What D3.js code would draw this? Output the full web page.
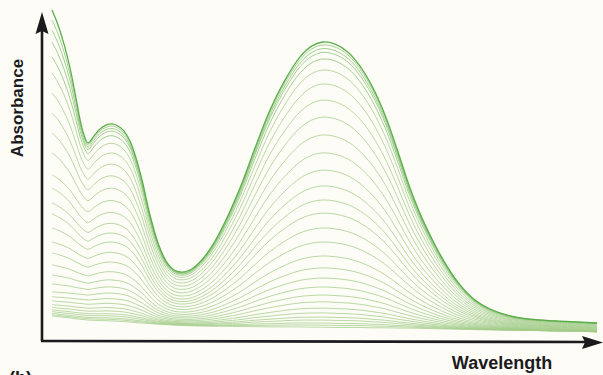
<!DOCTYPE html>
<html>
<head>
<meta charset="utf-8">
<script src="https://cdn.jsdelivr.net/npm/d3@7/dist/d3.min.js"></script>
<style>
  html, body { margin: 0; padding: 0; background: #fdfcf6; }
  svg { display: block; }
</style>
</head>
<body>
<svg id="chart" width="603" height="375"></svg>
<script>
// Wavelength grid (arbitrary nm)
const wavelengths = [250,256,262,268,274,280,286,292,298,304,
  310,316,322,328,334,340,348,356,364,372,
  380,388,398,410,423,438,453,468,483,498,
  510,521,533,546,558,570,583,596,608,620,
  633,646,658,673,688,708,728,753,778,795];

// Final (top) spectrum, absorbance
const finalSpectrum = [1.107,1.057,0.993,0.913,0.812,0.711,0.661,0.685,0.708,0.721,
  0.725,0.718,0.701,0.668,0.611,0.537,0.419,0.326,0.265,0.235,
  0.228,0.235,0.262,0.315,0.396,0.510,0.644,0.772,0.872,0.950,
  0.987,1.000,0.993,0.966,0.919,0.852,0.755,0.631,0.510,0.409,
  0.319,0.242,0.185,0.134,0.104,0.081,0.070,0.064,0.060,0.057];

// Initial (bottom) spectrum, absorbance
const initialSpectrum = [0.081,0.078,0.076,0.074,0.071,0.069,0.067,0.066,0.065,0.065,
  0.064,0.063,0.062,0.060,0.058,0.057,0.055,0.053,0.052,0.050,
  0.049,0.048,0.047,0.046,0.046,0.045,0.045,0.044,0.044,0.044,
  0.043,0.043,0.042,0.042,0.042,0.041,0.041,0.040,0.040,0.039,
  0.038,0.037,0.036,0.035,0.034,0.033,0.032,0.030,0.029,0.027];

// Short-wavelength part of the final spectrum that grows at its own pace
const uvComponent = [0.456,0.399,0.332,0.248,0.148,0.044,0,0,0,0,
  0,0,0,0,0,0,0,0,0,0,
  0,0,0,0,0,0,0,0,0,0,
  0,0,0,0,0,0,0,0,0,0,
  0,0,0,0,0,0,0,0,0,0];

const peakLevels = [1.000,0.990,0.978,0.965,0.943,0.906,0.859,0.805,0.748,0.688,
  0.628,0.570,0.517,0.470,0.426,0.376,0.329,0.282,0.242,0.208,
  0.178,0.151,0.128,0.107,0.091,0.077,0.067,0.057,0.050,0.043];

// Absorbance of each curve at the shortest wavelength, top to bottom
const edgeLevels = [1.107,1.074,1.040,1.000,0.950,0.896,0.829,0.762,0.695,0.628,
  0.554,0.510,0.460,0.423,0.376,0.329,0.292,0.252,0.218,0.188,
  0.161,0.141,0.124,0.111,0.101,0.094,0.089,0.086,0.084,0.081];

const xLabel = "Wavelength";
const yLabel = "Absorbance";
const panelLabel = "(b)";

// ---- build curves ----
const band = finalSpectrum.map((v, i) => v - initialSpectrum[i] - uvComponent[i]);
const peakIdx = wavelengths.indexOf(521);
const curves = peakLevels.map((pk, k) => {
  const p = (pk - initialSpectrum[peakIdx]) / band[peakIdx];
  let u = (edgeLevels[k] - initialSpectrum[0] - p * band[0]) / uvComponent[0];
  if (u < 0) u = 0;
  return wavelengths.map((w, i) => ({
    w, a: initialSpectrum[i] + p * band[i] + u * uvComponent[i]
  }));
});

const svg = d3.select("#chart");
const x = d3.scaleLinear().domain([250, 795]).range([52, 597]);
const y = d3.scaleLinear().domain([0, 1]).range([340, 42]);

const line = d3.line()
  .x(d => x(d.w))
  .y(d => y(d.a))
  .curve(d3.curveCatmullRom.alpha(0.5));

const g = svg.append("g");
// draw bottom first
curves.slice().reverse().forEach((c, ri) => {
  const k = curves.length - 1 - ri;
  g.append("path")
    .datum(c)
    .attr("fill", "none")
    .attr("stroke", k === 0 ? "#5aae4a" : (k < 5 ? "#86c072" : "#a3cc8a"))
    .attr("stroke-width", k === 0 ? 1.3 : 0.75)
    .attr("d", line);
});

// ---- axes ----
const axisColor = "#1c1a1d";
svg.append("line")
  .attr("x1", 42).attr("y1", 341).attr("x2", 42).attr("y2", 28)
  .attr("stroke", axisColor).attr("stroke-width", 2.6);
svg.append("line")
  .attr("x1", 41).attr("y1", 341).attr("x2", 588).attr("y2", 342)
  .attr("stroke", axisColor).attr("stroke-width", 2.6);
svg.append("path")
  .attr("d", "M42,12 L35.5,34 L42,31 L48.5,34 Z")
  .attr("fill", axisColor);
svg.append("path")
  .attr("d", "M603,342.5 L582,336 L585,342.3 L582,349 Z")
  .attr("fill", axisColor);

// ---- labels ----
svg.append("text")
  .attr("transform", "translate(23,108) rotate(-90)")
  .attr("text-anchor", "middle")
  .attr("font-family", "Liberation Sans, Arial, sans-serif")
  .attr("font-weight", "bold")
  .attr("font-size", 17)
  .attr("fill", axisColor)
  .text(yLabel);

svg.append("text")
  .attr("x", 502).attr("y", 369)
  .attr("text-anchor", "middle")
  .attr("font-family", "Liberation Sans, Arial, sans-serif")
  .attr("font-weight", "bold")
  .attr("font-size", 18)
  .attr("fill", axisColor)
  .text(xLabel);

svg.append("text")
  .attr("x", 9).attr("y", 384)
  .attr("font-family", "Liberation Sans, Arial, sans-serif")
  .attr("font-weight", "bold")
  .attr("font-size", 18)
  .attr("fill", axisColor)
  .text(panelLabel);
</script>
</body>
</html>
